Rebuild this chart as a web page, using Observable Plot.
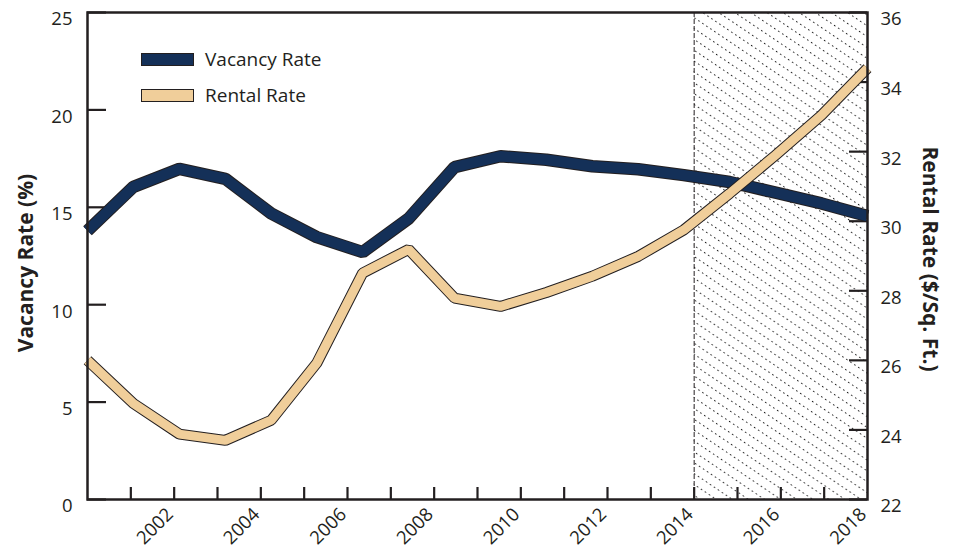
<!DOCTYPE html>
<html><head><meta charset="utf-8">
<script src="https://cdn.jsdelivr.net/npm/d3@7"></script>
<script src="https://cdn.jsdelivr.net/npm/@observablehq/plot@0.6"></script>
<style>
body{margin:0;background:#fff;}
#wrap{position:relative;width:953px;height:554px;}
.lg{position:absolute;font-family:"Open Sans",sans-serif;font-size:19px;color:#231f20;line-height:1;}
.sw{position:absolute;width:51px;height:11px;border:1px solid #231f20;}
svg text{fill:#231f20;}
</style></head><body><div id="wrap"></div>
<script>
// x positions of the plotted points (decimal years)
const pos = [2000.00, 2001.06, 2002.12, 2003.18, 2004.24, 2005.29, 2006.35, 2007.41, 2008.47,
             2009.53, 2010.59, 2011.65, 2012.71, 2013.76, 2014.82, 2015.88, 2016.94, 2018.00];
const vacancy = [13.8, 16.05, 16.97, 16.46, 14.68, 13.47, 12.7, 14.42, 17.06,
                 17.62, 17.44, 17.11, 16.95, 16.65, 16.3, 15.75, 15.2, 14.55];
const rental = [26.0, 24.76, 23.88, 23.7, 24.28, 25.92, 28.51, 29.19, 27.79,
                27.55, 27.95, 28.42, 28.99, 29.75, 30.8, 31.9, 33.05, 34.4];
const leftTicks = [0, 5, 10, 15, 20, 25];
const rightTicks = [22, 24, 26, 28, 30, 32, 34, 36];
const yearTicks = [2001, 2002, 2003, 2004, 2005, 2006, 2007, 2008, 2009, 2010, 2011, 2012, 2013, 2014, 2015, 2016, 2017];
const yearLabels = [2002, 2004, 2006, 2008, 2010, 2012, 2014, 2016, 2018];
const forecast = [{start: 2014, end: 2018}];

const rMin = 22, rMax = 36, vMax = 25;
const toV = r => (r - rMin) * vMax / (rMax - rMin);
const fromV = v => Math.round(rMin + v * (rMax - rMin) / vMax);

const vData = pos.map((x, i) => ({x, v: vacancy[i]}));
const rData = pos.map((x, i) => ({x, v: toV(rental[i])}));

const W = 953, H = 554, mL = 87, mR = 86, mT = 12, mB = 55;
const fw = W - mL - mR, fh = H - mT - mB;
const ink = "#231f20";

const defs = () => {
  const g = d3.create("svg:defs");
  const p = g.append("pattern").attr("id", "hatch").attr("patternUnits", "userSpaceOnUse")
    .attr("width", 4.8).attr("height", 9).attr("patternTransform", "rotate(34)");
  p.append("line").attr("x1", 0).attr("x2", 4.8).attr("y1", 4.5).attr("y2", 4.5)
    .attr("stroke", "#1a1a1a").attr("stroke-width", 1.1).attr("stroke-dasharray", "1.5 3.3");
  return g.node();
};

const chart = Plot.plot({
  width: W, height: H,
  marginLeft: mL, marginRight: mR, marginTop: mT, marginBottom: mB,
  style: {fontFamily: "Open Sans, sans-serif", fontSize: "18.5px", color: ink, background: "#fff"},
  x: {domain: [2000, 2018], axis: null},
  y: {domain: [0, vMax], axis: null},
  marks: [
    defs,
    Plot.rect(forecast, {x1: "start", x2: "end", fill: "url(#hatch)"}),
    Plot.ruleX(forecast, {x: "start", stroke: ink, strokeWidth: 1, strokeDasharray: "5 2"}),
    Plot.ruleX(yearTicks, {x: d => d, insetTop: fh - 12, stroke: ink, strokeWidth: 2.2}),
    Plot.ruleY(leftTicks, {y: d => d, insetRight: fw - 19, stroke: ink, strokeWidth: 2.2}),
    Plot.ruleY(rightTicks.map(toV), {y: d => d, insetLeft: fw - 18, stroke: ink, strokeWidth: 2.2}),
    Plot.axisY({ticks: leftTicks, tickSize: 0, tickPadding: 15, dy: 7, label: null}),
    Plot.axisY({anchor: "right", ticks: rightTicks.map(toV), tickFormat: fromV, tickSize: 0, tickPadding: 13, dy: 7, label: null}),
    Plot.text(yearLabels, {x: d => d, text: d => String(d), frameAnchor: "bottom", rotate: -45, textAnchor: "end", dx: 0, dy: 16}),
    Plot.text(["Vacancy Rate (%)"], {text: d => d, frameAnchor: "left", textAnchor: "middle", rotate: -90, dx: -61, dy: 7, fontWeight: "bold", fontSize: 21}),
    Plot.text(["Rental Rate ($/Sq. Ft.)"], {text: d => d, frameAnchor: "right", textAnchor: "middle", rotate: 90, dx: 62, dy: 3, fontWeight: "bold", fontSize: 21}),
    Plot.line(vData, {x: "x", y: "v", stroke: ink, strokeWidth: 12.5, strokeLinejoin: "miter", strokeLinecap: "butt"}),
    Plot.line(vData, {x: "x", y: "v", stroke: "#143058", strokeWidth: 10.5, strokeLinejoin: "miter", strokeLinecap: "butt"}),
    Plot.line(rData, {x: "x", y: "v", stroke: ink, strokeWidth: 11, strokeLinejoin: "miter", strokeLinecap: "butt"}),
    Plot.line(rData, {x: "x", y: "v", stroke: "#f0ce9a", strokeWidth: 9, strokeLinejoin: "miter", strokeLinecap: "butt"}),
    Plot.frame({stroke: ink, strokeWidth: 2.5})
  ]
});

const wrap = document.getElementById("wrap");
wrap.appendChild(chart);

const legendItems = [
  {label: "Vacancy Rate", color: "#143058", top: 53},
  {label: "Rental Rate", color: "#f0ce9a", top: 89}
];
for (const it of legendItems) {
  const sw = document.createElement("div");
  sw.className = "sw";
  sw.style.left = "141px"; sw.style.top = it.top + "px"; sw.style.background = it.color;
  wrap.appendChild(sw);
  const t = document.createElement("div");
  t.className = "lg";
  t.textContent = it.label;
  t.style.left = "205px"; t.style.top = (it.top - 3) + "px";
  wrap.appendChild(t);
}
</script>
</body></html>
